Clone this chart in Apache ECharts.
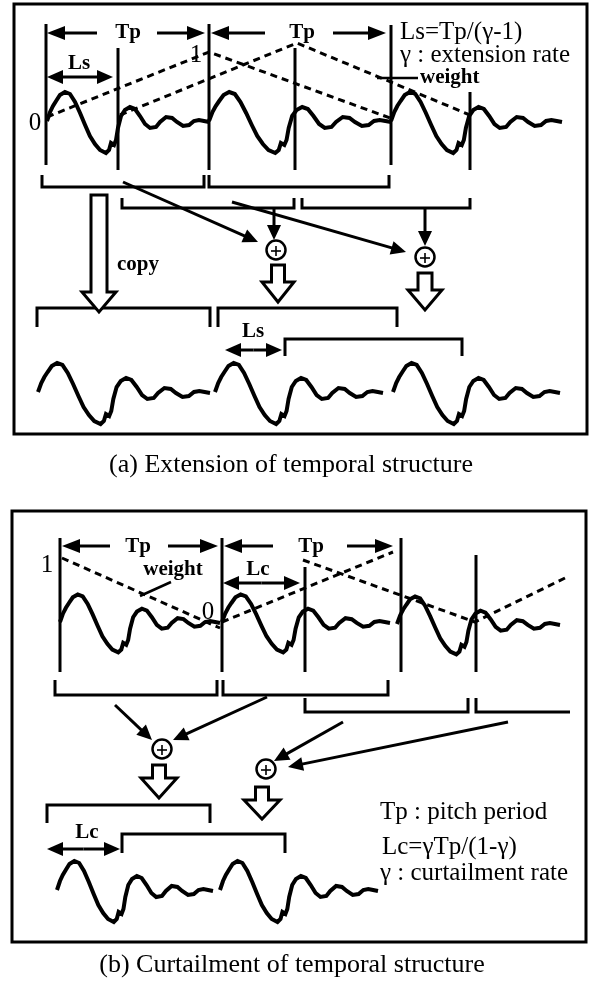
<!DOCTYPE html>
<html><head><meta charset="utf-8">
<script src="https://cdn.jsdelivr.net/npm/echarts@6/dist/echarts.min.js"></script>
<style>html,body{margin:0;padding:0;background:#fff}#c{width:594px;height:987px}</style>
</head><body><div id="c"></div>
<script>
// ---- one pitch period of the waveform: [phase 0..1, offset from baseline (px, down +)]
const pulseShape = [
 [0,0],[0.019,-9],[0.037,-15],[0.056,-20],[0.080,-26],[0.111,-29],[0.142,-27],[0.173,-19],
 [0.204,-8],[0.235,4],[0.265,15],[0.296,23],[0.327,29],[0.364,32],[0.383,29],[0.395,22],
 [0.414,24],[0.426,19],[0.438,7],[0.457,-5],[0.481,-11],[0.512,-14],[0.543,-12],[0.574,-5],
 [0.605,3],[0.636,7],[0.673,6],[0.698,1],[0.735,-4],[0.772,-3],[0.802,1],[0.840,5],
 [0.877,4],[0.907,0],[0.938,-1],[0.969,0],[1,1]
];
// placed periods: [xStart, xEnd, baseline, amplitude]
const waveSegments = [
 [47,209,121,1],[209,391,121,1],[391,562,121,1],
 [38,210,392,1],[215,383,392,1],[393,560,392,1],
 [60,220,622,0.95],[222,390,622,0.95],[397,560,624,0.95],
 [57,213,890,1],[220,378,890,1]
];
const frames = [[14,4,587,434],[12,511,586,942]];
const periodMarks = [
 [46,24,165],[118,48,170],[209,24,170],[295,48,170],[391,25,165],[470,92,170],
 [60,538,672],[222,538,672],[305,567,672],[401,538,672],[476,555,672]
];
const weightLines = [
 [[47,117],[209,52],[390,118]],
 [[120,115],[297,43],[470,115]],
 [[62,558],[220,628]],
 [[222,622],[393,552]],
 [[303,560],[475,622],[567,577]]
];
const leaders = [[[377,78],[418,78]],[[140,596],[171,582]]];
// open-top brackets: [x0, x1, yTop, yBase, rightTick]
const bracketsUp = [
 [42,204,175,187,1],[209,389,175,187,1],[122,294,198,208,1],[302,470,198,208,1],
 [55,217,680,695,1],[223,388,680,695,1],[305,468,698,712,1],[476,570,698,712,0]
];
// open-bottom brackets: [x0, x1, yBase, yEnd]
const bracketsDown = [
 [37,210,308,327],[218,397,308,327],[285,462,339,356],
 [47,210,805,823],[122,285,834,853]
];
const solidArrows = [
 [123,182,258,242],[274,208,274,240],[232,202,406,252],[425,208,425,246],
 [115,705,152,740],[267,697,173,740],[343,722,274,761],[508,722,288,767]
];
const adders = [[276,250],[425,257],[162,749],[266,769]];
// [centerX, top, headStart, tip, shaftHalfWidth, headHalfWidth]
const hollowArrows = [
 [99,195,292,312,8,17],[278,265,282,302,6.5,16],[425,273,290,310,7,17],
 [159,765,778,798,6.5,18],[262,787,800,819,6.5,18]
];
const dimArrows = [[47,113,77],[225,282,350],[223,300,583],[47,120,849]];
const periodArrows = [
 [47,97,33],[205,157,33],[211,265,33],[386,333,33],
 [62,110,546],[218,168,546],[224,273,546],[393,347,546]
];
// [text, x, y, style, align]
const labels = [
 ['Tp',128,33,'b','center'],['Tp',302,33,'b','center'],
 ['Tp',138,547,'b','center'],['Tp',311,547,'b','center'],
 ['Ls',79,64,'b','center'],['Ls',253,332,'b','center'],
 ['Lc',258,570,'b','center'],['Lc',87,833,'b','center'],
 ['copy',138,265,'b','center'],
 ['weight',420,78,'b','left'],['weight',173,570,'b','center'],
 ['0',35,123,'r','center'],['1',196,55,'r','center'],
 ['1',47,565,'r','center'],['0',208,612,'r','center'],
 ['Ls=Tp/(\u03b3-1)',400,32,'r','left'],
 ['\u03b3 : extension rate',400,55,'r','left'],
 ['Tp : pitch period',380,812,'r','left'],
 ['Lc=\u03b3Tp/(1-\u03b3)',382,847,'r','left'],
 ['\u03b3 : curtailment rate',380,873,'r','left'],
 ['(a) Extension of temporal structure',291,465,'c','center'],
 ['(b) Curtailment of temporal structure',292,965,'c','center']
];

const FONTS = {
 b: 'bold 21px "Liberation Serif", serif',
 r: '25px "Liberation Serif", serif',
 c: '26px "Liberation Serif", serif'
};
const K = '#000';

function line(pts, w, dash) {
  return {type:'polyline', shape:{points:pts}, style:{stroke:K, lineWidth:w, fill:null, lineDash:dash||null, lineJoin:'miter', miterLimit:3, lineCap:'butt'}};
}
function arrowEls(api, a, b, len, half, w) {
  const A = api.coord(a), B = api.coord(b);
  const dx = B[0]-A[0], dy = B[1]-A[1], L = Math.hypot(dx,dy);
  const ux = dx/L, uy = dy/L, nx = -uy, ny = ux;
  const bx = B[0]-ux*len, by = B[1]-uy*len;
  return [
    line([A,[bx+ux*2,by+uy*2]], w),
    {type:'polygon', shape:{points:[B,[bx+nx*half,by+ny*half],[bx-nx*half,by-ny*half]]}, style:{fill:K}}
  ];
}
function custom(name, items, draw) {
  return {
    type:'custom', name, coordinateSystem:'cartesian2d', silent:true, animation:false,
    data: items.map((_, i) => [i, 0]),
    renderItem: (params, api) => ({type:'group', children: draw(items[params.dataIndex], api)})
  };
}

const series = [
  custom('frames', frames, (f, api) => {
    const p = [api.coord([f[0],f[1]]), api.coord([f[2],f[1]]), api.coord([f[2],f[3]]), api.coord([f[0],f[3]])];
    return [{type:'polygon', shape:{points:p}, style:{stroke:K, lineWidth:3, fill:null}}];
  }),
  custom('weight', weightLines, (w, api) => [line(w.map(q => api.coord(q)), 3, [7,5])]),
  custom('leaders', leaders, (w, api) => [line(w.map(q => api.coord(q)), 2.5)]),
  custom('marks', periodMarks, (m, api) => [line([api.coord([m[0],m[1]]), api.coord([m[0],m[2]])], 3)]),
  custom('wave', waveSegments, (s, api) => [
    line(pulseShape.map(([t,v]) => api.coord([s[0]+t*(s[1]-s[0]), s[2]+v*s[3]])), 4)
  ]),
  custom('bracketsUp', bracketsUp, (b, api) => {
    const pts = [[b[0],b[2]],[b[0],b[3]],[b[1],b[3]]];
    if (b[4]) pts.push([b[1],b[2]]);
    return [line(pts.map(q => api.coord(q)), 3)];
  }),
  custom('bracketsDown', bracketsDown, (b, api) =>
    [line([[b[0],b[3]],[b[0],b[2]],[b[1],b[2]],[b[1],b[3]]].map(q => api.coord(q)), 3)]),
  custom('solidArrows', solidArrows, (a, api) => arrowEls(api, [a[0],a[1]], [a[2],a[3]], 15, 7, 3)),
  custom('periodArrows', periodArrows, (a, api) => arrowEls(api, [a[1],a[2]], [a[0],a[2]], 18, 7, 3)),
  custom('dimArrows', dimArrows, (a, api) => {
    const mid = (a[0]+a[1])/2;
    return arrowEls(api, [mid,a[2]], [a[0],a[2]], 16, 7, 3).concat(arrowEls(api, [mid,a[2]], [a[1],a[2]], 16, 7, 3));
  }),
  custom('hollowArrows', hollowArrows, (h, api) => {
    const [c,t,hs,tip,s,hh] = h;
    const pts = [[c-s,t],[c+s,t],[c+s,hs],[c+hh,hs],[c,tip],[c-hh,hs],[c-s,hs]].map(q => api.coord(q));
    return [{type:'polygon', shape:{points:pts}, style:{fill:'#fff', stroke:K, lineWidth:3, lineJoin:'miter'}}];
  }),
  custom('adders', adders, (a, api) => {
    const p = api.coord(a);
    return [
      {type:'circle', shape:{cx:p[0], cy:p[1], r:9.5}, style:{fill:'#fff', stroke:K, lineWidth:2.5}},
      line([[p[0]-5,p[1]+1],[p[0]+5,p[1]+1]], 1.6),
      line([[p[0],p[1]-4],[p[0],p[1]+6]], 1.6)
    ];
  }),
  custom('labels', labels, (l, api) => {
    const p = api.coord([l[1], l[2]]);
    return [{type:'text', x:p[0], y:p[1], style:{text:l[0], font:FONTS[l[3]], fill:K,
      align:l[4], verticalAlign:'middle', textAlign:l[4], textVerticalAlign:'middle'}}];
  })
];

const chart = echarts.init(document.getElementById('c'), null, {renderer:'canvas'});
chart.setOption({
  animation:false,
  backgroundColor:'#fff',
  grid:{left:0, right:0, top:0, bottom:0},
  xAxis:{type:'value', min:0, max:594, show:false},
  yAxis:{type:'value', min:0, max:987, inverse:true, show:false},
  series
});
</script>
</body></html>
